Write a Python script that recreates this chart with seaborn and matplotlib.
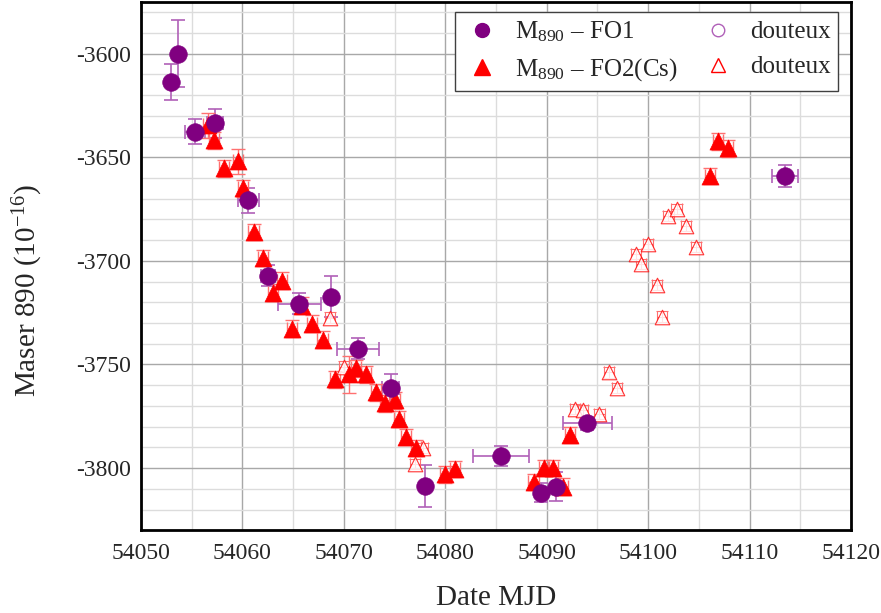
import numpy as np
import pandas as pd
import matplotlib
matplotlib.use('Agg')
import matplotlib.pyplot as plt
import seaborn as sns
from matplotlib.ticker import MultipleLocator
from matplotlib.lines import Line2D

# FO1 (cercles pleins)
fo1_date = [54053.0, 54053.7, 54055.3, 54057.3, 54060.6, 54062.5, 54065.6, 54068.7,
            54071.4, 54074.6, 54078.0, 54085.5, 54089.4, 54090.9, 54094.0, 54113.5]
fo1_val = [-3613.9, -3600.0, -3637.6, -3633.7, -3670.7, -3707.2, -3720.7, -3717.3,
           -3742.3, -3761.5, -3808.7, -3794.2, -3812.0, -3809.1, -3778.4, -3659.1]
fo1_xerr = [0.0, 0.0, 1.0, 0.8, 1.0, 0.7, 2.1, 0.0,
            2.1, 0.8, 0.0, 2.8, 0.4, 0.4, 2.4, 1.3]
fo1_yerr = [8.7, 16.0, 6.0, 7.0, 6.0, 5.0, 5.0, 10.0,
            5.0, 7.0, 10.0, 5.0, 4.6, 7.0, 3.0, 5.3]

# FO2(Cs) (triangles pleins)
fo2_date = [54056.6, 54057.2, 54058.2, 54059.6, 54060.1, 54061.1, 54062.0, 54063.0,
            54063.9, 54064.9, 54065.9, 54066.9, 54067.9, 54069.1, 54070.5, 54071.2,
            54072.2, 54073.2, 54074.1, 54075.0, 54075.4, 54076.1, 54077.1, 54080.0,
            54081.0, 54088.7, 54089.7, 54090.6, 54091.6, 54092.3, 54106.1, 54106.9,
            54107.9]
fo2_val = [-3634.6, -3641.8, -3655.3, -3652.0, -3665.0, -3686.0, -3698.6, -3715.4,
           -3709.6, -3732.7, -3721.6, -3730.3, -3738.0, -3757.2, -3754.8, -3751.9,
           -3754.8, -3763.5, -3768.8, -3767.3, -3776.4, -3785.1, -3790.4, -3803.0,
           -3800.5, -3806.7, -3800.0, -3800.0, -3809.0, -3784.1, -3659.1, -3642.3,
           -3645.7]
fo2_yerr = [6.0, 4.0, 4.0, 6.0, 4.0, 4.0, 4.0, 4.0,
            4.0, 4.0, 4.0, 4.0, 4.0, 4.0, 9.0, 4.0,
            4.0, 4.0, 4.0, 4.0, 4.0, 4.0, 4.0, 4.0,
            4.0, 4.0, 4.0, 4.0, 4.0, 4.0, 4.0, 4.0,
            4.0]

# FO2(Cs) douteux (triangles vides)
fo2d_date = [54068.6, 54070.0, 54077.0, 54077.8, 54092.8, 54093.6, 54095.2, 54096.1,
             54096.9, 54098.8, 54099.3, 54100.0, 54100.9, 54101.4, 54102.0, 54102.8,
             54103.7, 54104.7]
fo2d_val = [-3727.4, -3751.0, -3798.1, -3790.4, -3771.6, -3772.1, -3774.0, -3753.8,
            -3761.5, -3696.6, -3701.4, -3691.8, -3711.5, -3726.9, -3678.4, -3675.0,
            -3683.2, -3693.3]

fo1 = pd.DataFrame({'date': fo1_date, 'val': fo1_val})
fo2 = pd.DataFrame({'date': fo2_date, 'val': fo2_val})
fo2d = pd.DataFrame({'date': fo2d_date, 'val': fo2d_val})

sns.set_style('white')
plt.rcParams['font.family'] = ['Liberation Serif', 'DejaVu Serif']
plt.rcParams['mathtext.fontset'] = 'custom'
plt.rcParams['mathtext.rm'] = 'Liberation Serif'
plt.rcParams['mathtext.it'] = 'Liberation Serif:italic'
plt.rcParams['axes.unicode_minus'] = False

fig = plt.figure(figsize=(8.81, 6.13), dpi=100)
ax = fig.add_axes([0.160, 0.135, 0.806, 0.862])

purple = '#800080'
red = '#ff0000'

# barres d'erreur
ax.errorbar(fo1_date, fo1_val, xerr=fo1_xerr, yerr=fo1_yerr, fmt='none',
            ecolor='#b060b8', elinewidth=1.2, capsize=5, capthick=1.2, zorder=2)
ax.errorbar(fo2_date, fo2_val, xerr=0.5, yerr=fo2_yerr, fmt='none',
            ecolor='#ff7070', elinewidth=1.0, capsize=5, capthick=1.0, zorder=2)
ax.errorbar(fo2d_date, fo2d_val, xerr=0.5, yerr=2.5, fmt='none',
            ecolor='#ff7070', elinewidth=0.8, capsize=4, capthick=0.8, zorder=2)

sns.scatterplot(data=fo2d, x='date', y='val', ax=ax, marker='^', s=110,
                facecolor='white', edgecolor=red, linewidth=0.8, alpha=0.8, zorder=3)
sns.scatterplot(data=fo2, x='date', y='val', ax=ax, marker='^', s=150,
                color=red, edgecolor=red, linewidth=0.5, zorder=4)
sns.scatterplot(data=fo1, x='date', y='val', ax=ax, marker='o', s=160,
                color=purple, edgecolor=purple, linewidth=0.5, zorder=5)

ax.set_xlim(54050, 54120)
ax.set_ylim(-3830, -3575)
ax.xaxis.set_major_locator(MultipleLocator(10))
ax.xaxis.set_minor_locator(MultipleLocator(5))
ax.yaxis.set_major_locator(MultipleLocator(50))
ax.yaxis.set_minor_locator(MultipleLocator(10))
ax.grid(which='major', color='#a8a8a8', linewidth=1.0)
ax.grid(which='minor', color='#dcdcdc', linewidth=1.0)
ax.set_axisbelow(True)
ax.tick_params(which='both', direction='in', top=False, right=False,
               labelsize=17, width=1.5, color='black')
ax.tick_params(which='major', length=7)
ax.tick_params(which='minor', length=5)
ax.tick_params(axis='x', pad=9)
ax.tick_params(axis='y', pad=7)
for sp in ax.spines.values():
    sp.set_color('black')
    sp.set_linewidth(2.0)

ax.set_xlabel('Date MJD', fontsize=21)
ax.set_ylabel('Maser 890 (10$^{-16}$)', fontsize=21)
ax.xaxis.set_label_coords(0.5, -0.104)
ax.yaxis.set_label_coords(-0.135, 0.453)

handles = [
    Line2D([], [], marker='o', ls='none', color=purple, markersize=10),
    Line2D([], [], marker='^', ls='none', color=red, markersize=11),
    Line2D([], [], marker='o', ls='none', markerfacecolor='white',
           markeredgecolor='#b060b8', markersize=9),
    Line2D([], [], marker='^', ls='none', markerfacecolor='white',
           markeredgecolor=red, markersize=10),
]
labels = ['M$_{890}$ – FO1', 'M$_{890}$ – FO2(Cs)', 'douteux', 'douteux']
leg = ax.legend(handles, labels, loc='upper right', ncol=2, fontsize=18,
                frameon=True, fancybox=False, edgecolor='#404040',
                framealpha=1, borderpad=0.3, columnspacing=0.8,
                handletextpad=0.5, handlelength=1.6, labelspacing=0.5,
                borderaxespad=0, bbox_to_anchor=(0.982, 0.981))
leg.get_frame().set_linewidth(1.0)

fig.savefig('out.png', dpi=100)
